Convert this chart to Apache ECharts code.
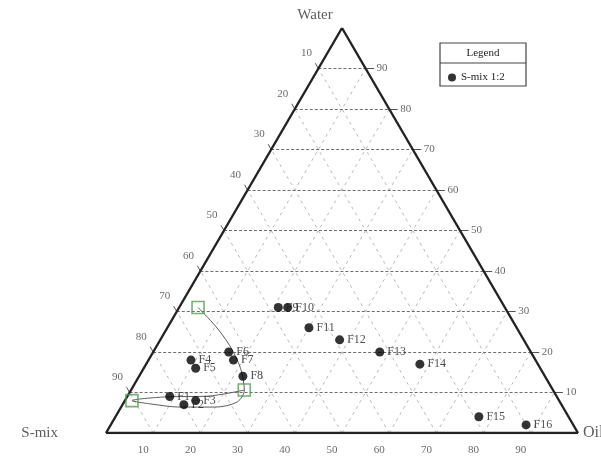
<!DOCTYPE html>
<html>
<head>
<meta charset="utf-8">
<script src="https://cdn.jsdelivr.net/npm/echarts@6/dist/echarts.min.js"></script>
<style>
  html, body { margin: 0; padding: 0; background: #fff; }
  #chart { width: 601px; height: 457px; }
</style>
</head>
<body>
<div id="chart"></div>
<script>
// Formulations (S-mix 1:2): oil and water percentages, S-mix is the remainder
const formulations = ['F1','F2','F3','F4','F5','F6','F7','F8','F9','F10','F11','F12','F13','F14','F15','F16'];
const oilPct   = [9, 13, 15, 9, 11, 16, 18, 22, 21, 23, 30, 38, 48, 58, 77, 88];
const waterPct = [9, 7, 8, 18, 16, 20, 18, 14, 31, 31, 26, 23, 20, 17, 4, 2];

// Corner points of the microemulsion region
const regionOil   = [4, 24, 1.5];
const regionWater = [31, 10.6, 8];

// Region boundary trace
const boundaryOil   = [4, 10, 15.5, 20.5, 24, 24, 20, 12.5, 5.7, 1.5, 8, 17, 24];
const boundaryWater = [31, 26.4, 21.5, 16, 10.6, 7.7, 6.4, 6.4, 7.2, 8, 8.9, 9.1, 10.6];

// Grid / tick steps (percent)
const ticks = [10, 20, 30, 40, 50, 60, 70, 80, 90];
const vertexNames = ['Water', 'S-mix', 'Oil'];
const legendTitle = 'Legend';
const seriesName = 'S-mix 1:2';

// ternary (oil, water) -> cartesian (x, y); x spans the base, y the height
function toXY(oil, water) {
  return [oil + water / 2, water];
}

const serif = '"Liberation Serif", "DejaVu Serif", serif';

// gridlines
const waterLines = ticks.map(w => ({ coords: [toXY(0, w), toXY(100 - w, w)] }));
const oilLines = ticks.map(o => ({ coords: [toXY(o, 0), toXY(o, 100 - o)] }));
const smixLines = ticks.map(s => ({ coords: [toXY(100 - s, 0), toXY(0, 100 - s)] }));

// tick marks (extensions of gridlines beyond the edges)
const t = 1.3;
const leftTicks = ticks.map(s => {
  const p = toXY(0, 100 - s);
  return { coords: [p, [p[0] - 0.5 * t, p[1] + t]] };
});
const bottomTicks = ticks.map(o => {
  const p = toXY(o, 0);
  return { coords: [p, [p[0] - 0.5 * t, p[1] - t]] };
});
const rightTicks = ticks.map(w => {
  const p = toXY(100 - w, w);
  return { coords: [p, [p[0] + 1.8, p[1]]] };
});

const outline = [
  { coords: [toXY(0, 0), toXY(100, 0)] },
  { coords: [toXY(100, 0), toXY(0, 100)] },
  { coords: [toXY(0, 100), toXY(0, 0)] }
];

const tickLabelStyle = { fontFamily: serif, fontSize: 11, color: '#444' };

const option = {
  animation: false,
  backgroundColor: '#fff',
  grid: { left: 106, right: 23, top: 28, bottom: 24 },
  xAxis: { type: 'value', min: 0, max: 100, show: false },
  yAxis: { type: 'value', min: 0, max: 100, show: false },
  legend: {
    data: [seriesName],
    left: 443, top: 67,
    icon: 'circle', itemWidth: 8, itemHeight: 8, itemGap: 4,
    textStyle: { fontFamily: serif, fontSize: 11, color: '#222' }
  },
  graphic: [
    { type: 'rect', shape: { x: 440, y: 43, width: 86, height: 43 },
      style: { fill: 'none', stroke: '#444', lineWidth: 1.2 } },
    { type: 'line', shape: { x1: 440, y1: 63, x2: 526, y2: 63 },
      style: { stroke: '#444', lineWidth: 1.2 } },
    { type: 'text', x: 483, y: 53,
      style: { text: legendTitle, font: '11px ' + serif, fill: '#222', align: 'center', verticalAlign: 'middle' } }
  ],
  series: [
    { type: 'lines', coordinateSystem: 'cartesian2d', silent: true, z: 1,
      lineStyle: { color: '#b8b8b8', width: 1, type: [3, 4], opacity: 1 },
      data: oilLines.concat(smixLines) },
    { type: 'lines', coordinateSystem: 'cartesian2d', silent: true, z: 2,
      lineStyle: { color: '#6e6e6e', width: 1, type: [3, 2], opacity: 1 },
      data: waterLines },
    { type: 'lines', coordinateSystem: 'cartesian2d', silent: true, z: 3,
      lineStyle: { color: '#555', width: 1, type: 'solid', opacity: 1 },
      data: leftTicks.concat(bottomTicks, rightTicks) },
    { type: 'lines', coordinateSystem: 'cartesian2d', silent: true, z: 4,
      lineStyle: { color: '#222', width: 2.4, type: 'solid', opacity: 1 },
      data: outline },
    { type: 'line', silent: true, z: 5, smooth: 0.3, symbol: 'none',
      lineStyle: { color: '#5e5e5e', width: 1 },
      data: boundaryOil.map((o, i) => toXY(o, boundaryWater[i])) },
    { type: 'scatter', silent: true, z: 6,
      symbol: 'rect', symbolSize: 12,
      itemStyle: { color: 'rgba(255,255,255,0)', borderColor: '#4f9f4f', borderWidth: 1.6 },
      data: regionOil.map((o, i) => toXY(o, regionWater[i])) },
    { type: 'scatter', name: seriesName, z: 7,
      symbol: 'circle', symbolSize: 9,
      itemStyle: { color: '#000' },
      label: { show: true, position: 'right', distance: 3, formatter: '{b}',
               fontFamily: serif, fontSize: 12, color: '#222' },
      data: formulations.map((n, i) => ({ name: n, value: toXY(oilPct[i], waterPct[i]) })) },
    // left edge labels (S-mix)
    { type: 'scatter', silent: true, symbolSize: 0, z: 8,
      label: { show: true, position: 'inside', offset: [-12, -15], formatter: '{b}', ...tickLabelStyle },
      data: ticks.map(s => ({ name: String(s), value: toXY(0, 100 - s) })) },
    // right edge labels (Water)
    { type: 'scatter', silent: true, symbolSize: 0, z: 8,
      label: { show: true, position: 'right', distance: 11, formatter: '{b}', ...tickLabelStyle },
      data: ticks.map(w => ({ name: String(w), value: toXY(100 - w, w) })) },
    // bottom edge labels (Oil)
    { type: 'scatter', silent: true, symbolSize: 0, z: 8,
      label: { show: true, position: 'inside', offset: [-10, 17], formatter: '{b}', ...tickLabelStyle },
      data: ticks.map(o => ({ name: String(o), value: toXY(o, 0) })) },
    // vertex titles
    { type: 'scatter', silent: true, symbolSize: 0, z: 8,
      label: { show: true, formatter: '{b}', fontFamily: serif, fontSize: 15, color: '#333' },
      data: [
        { name: vertexNames[0], value: toXY(0, 100), label: { position: 'inside', offset: [-27, -13] } },
        { name: vertexNames[1], value: toXY(0, 0), label: { position: 'left', distance: 48 } },
        { name: vertexNames[2], value: toXY(100, 0), label: { position: 'right', distance: 5, fontSize: 16 } }
      ] }
  ]
};

echarts.init(document.getElementById('chart')).setOption(option);
</script>
</body>
</html>
